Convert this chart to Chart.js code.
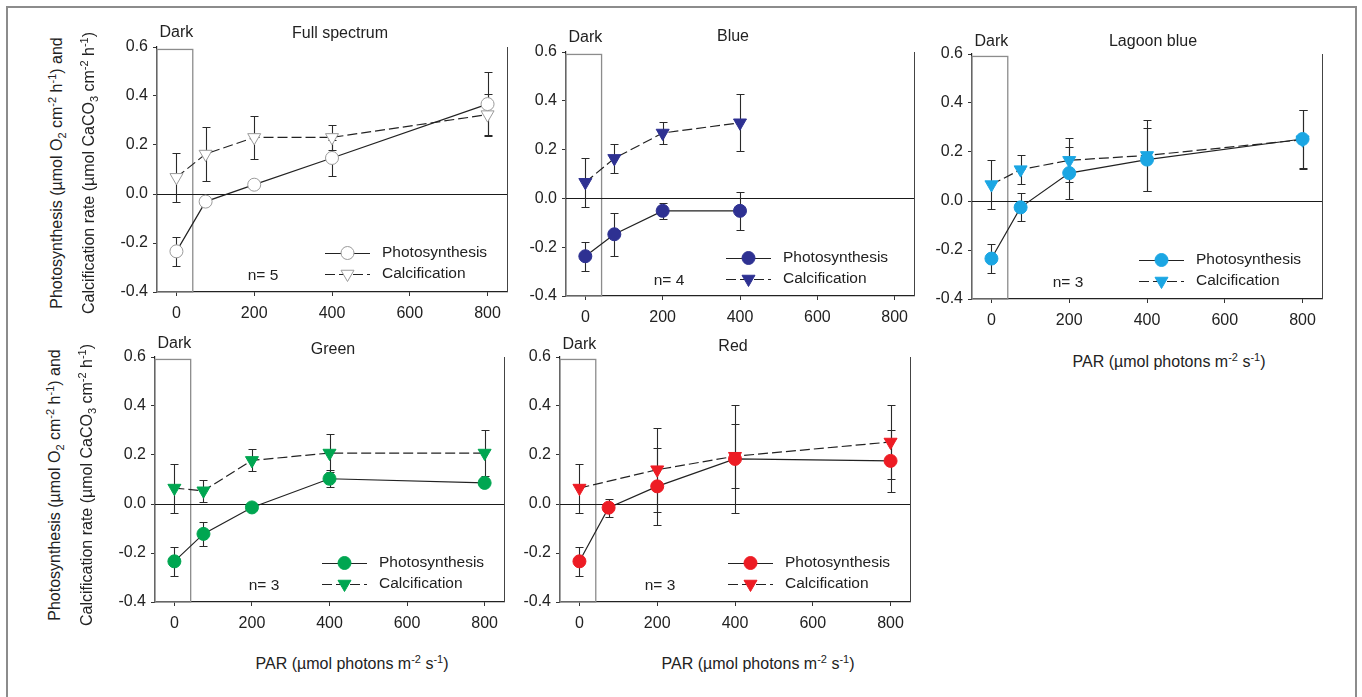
<!DOCTYPE html>
<html>
<head>
<meta charset="utf-8">
<script src="https://cdn.jsdelivr.net/npm/chart.js@4.4.1/dist/chart.umd.min.js"></script>
<style>
  body { margin:0; background:#fff; width:1362px; height:697px; overflow:hidden; position:relative;
         font-family:"Liberation Sans", Arial, sans-serif; color:#222; }
  .frame { position:absolute; left:6px; top:6px; width:1347px; height:760px; border:2px solid #8c8c8c; }
  canvas { position:absolute; }
  .lbl { position:absolute; white-space:nowrap; font-size:16px; line-height:18px; }
  .rot { transform:translate(-50%,-50%) rotate(-90deg); }
  .hor { transform:translate(-50%,-50%); }
  .lbl sup, .lbl sub { font-size:11px; line-height:0; }
</style>
</head>
<body>
<div class="frame"></div>

<script>
// tick values
const xTicks = [0, 200, 400, 600, 800];
const yTicks = [-0.4, -0.2, 0, 0.2, 0.4, 0.6];

// PAR levels (µmol photons m-2 s-1)
const parLevels = [0, 75, 200, 400, 800];
const parBlue = [0, 75, 200, 400];
const parRedCalc = [0, 200, 400, 800];

// Full spectrum
const fullPhoto = [-0.234, -0.031, 0.038, 0.147, 0.367];
const fullPhotoErr = [0.06, 0.012, 0.012, 0.075, 0.13];
const fullCalc = [0.068, 0.163, 0.231, 0.231, 0.324];
const fullCalcErr = [0.10, 0.11, 0.087, 0.05, 0.085];

// Blue
const bluePhoto = [-0.237, -0.147, -0.051, -0.051];
const bluePhotoErr = [0.06, 0.089, 0.032, 0.078];
const blueCalc = [0.066, 0.164, 0.268, 0.31];
const blueCalcErr = [0.10, 0.058, 0.044, 0.116];

// Lagoon blue
const lagoonPhoto = [-0.235, -0.026, 0.114, 0.169, 0.253];
const lagoonPhotoErr = [0.06, 0.057, 0.105, 0.13, 0.12];
const lagoonCalc = [0.067, 0.128, 0.166, 0.186, 0.25];
const lagoonCalcErr = [0.10, 0.06, 0.09, 0.145, 0.12];

// Green
const greenPhoto = [-0.234, -0.122, -0.014, 0.103, 0.086];
const greenPhotoErr = [0.06, 0.049, 0.01, 0.035, 0.01];
const greenCalc = [0.065, 0.054, 0.178, 0.208, 0.208];
const greenCalcErr = [0.10, 0.045, 0.045, 0.078, 0.095];

// Red
const redPhoto = [-0.234, -0.015, 0.072, 0.184, 0.176];
const redPhotoErr = [0.06, 0.037, 0.158, 0.22, 0.127];
const redCalc = [0.065, 0.14, 0.195, 0.253];
const redCalcErr = [0.10, 0.172, 0.13, 0.15];

const darkEdge = 42, darkTop = 0.59;
const FONT = '"Liberation Sans", Arial, sans-serif';

const panels = [
  {title:'Full spectrum', n:'n= 5', area:[157,47,507,292], fill:'#ffffff', edge:'#9a9a9a',
   px:parLevels, py:fullPhoto, pe:fullPhotoErr, cx:parLevels, cy:fullCalc, ce:fullCalcErr,
   darkDy:-14, titleDy:-13, titleX:183, nX:106, leg:168},
  {title:'Blue', n:'n= 4', area:[566,52,914,296], fill:'#2e3192', edge:'#2e3192',
   px:parBlue, py:bluePhoto, pe:bluePhotoErr, cx:parBlue, cy:blueCalc, ce:blueCalcErr,
   darkDy:-14, titleDy:-15, titleX:167, nX:103, leg:160},
  {title:'Lagoon blue', n:'n= 3', area:[972,54,1322,299], fill:'#1ba6e3', edge:'#1ba6e3',
   px:parLevels, py:lagoonPhoto, pe:lagoonPhotoErr, cx:parLevels, cy:lagoonCalc, ce:lagoonCalcErr,
   darkDy:-12, titleDy:-12, titleX:181, nX:96, leg:167},
  {title:'Green', n:'n= 3', area:[155,357,504,602], fill:'#00a651', edge:'#00a651',
   px:parLevels, py:greenPhoto, pe:greenPhotoErr, cx:parLevels, cy:greenCalc, ce:greenCalcErr,
   darkDy:-13, titleDy:-7, titleX:178, nX:109, leg:167},
  {title:'Red', n:'n= 3', area:[560,357,910,602], fill:'#ed1c24', edge:'#ed1c24',
   px:parLevels, py:redPhoto, pe:redPhotoErr, cx:parRedCalc, cy:redCalc, ce:redCalcErr,
   darkDy:-12, titleDy:-10, titleX:173, nX:100, leg:168}
];

function makeDecor(p){
  return {
    id:'decor',
    beforeDatasetsDraw(chart){
      const {ctx, chartArea:a, scales:{x, y}} = chart;
      ctx.save();
      // dark period box
      ctx.strokeStyle = '#8c8c8c'; ctx.lineWidth = 1.3;
      const bx = x.getPixelForValue(darkEdge), by = y.getPixelForValue(darkTop);
      ctx.strokeRect(a.left, by, bx - a.left, a.bottom - by);
      // zero line and right spine
      ctx.strokeStyle = '#1a1a1a'; ctx.lineWidth = 1.2;
      const y0 = Math.round(y.getPixelForValue(0)) + 0.5;
      ctx.beginPath(); ctx.moveTo(a.left, y0); ctx.lineTo(a.right, y0); ctx.stroke();
      ctx.strokeStyle = '#444'; ctx.lineWidth = 1;
      const rx = Math.round(a.right) + 0.5;
      ctx.beginPath(); ctx.moveTo(rx, a.top); ctx.lineTo(rx, a.bottom); ctx.stroke();
      // error bars
      ctx.strokeStyle = '#2a2a2a'; ctx.lineWidth = 1.1;
      chart.data.datasets.forEach(ds => {
        ds.data.forEach((pt, i) => {
          const e = ds.err[i];
          if (!e) return;
          const px = Math.round(x.getPixelForValue(pt.x)) + 0.5;
          const t = Math.round(y.getPixelForValue(pt.y + e)) + 0.5;
          const b = Math.round(y.getPixelForValue(pt.y - e)) + 0.5;
          ctx.beginPath();
          ctx.moveTo(px, t); ctx.lineTo(px, b);
          ctx.moveTo(px - 4, t); ctx.lineTo(px + 4, t);
          ctx.moveTo(px - 4, b); ctx.lineTo(px + 4, b);
          ctx.stroke();
        });
      });
      ctx.restore();
    },
    afterDraw(chart){
      const {ctx, chartArea:a, scales:{x}} = chart;
      ctx.save();
      ctx.fillStyle = '#222';
      ctx.textBaseline = 'middle';
      ctx.textAlign = 'center';
      ctx.font = '16px ' + FONT;
      ctx.fillText('Dark', x.getPixelForValue(0), a.top + p.darkDy);
      ctx.fillText(p.title, a.left + p.titleX, a.top + p.titleDy);
      ctx.font = '15.5px ' + FONT;
      ctx.fillText(p.n, a.left + p.nX, a.top + 229);
      // legend
      ctx.textAlign = 'left';
      const rows = [206, 227];
      chart.data.datasets.forEach((ds, k) => {
        const ly = a.top + rows[k];
        const x0 = a.left + p.leg, x1 = x0 + 45;
        ctx.strokeStyle = '#222'; ctx.lineWidth = 1.1;
        ctx.setLineDash(ds.borderDash || []);
        ctx.beginPath(); ctx.moveTo(x0, ly + 0.5); ctx.lineTo(x1, ly + 0.5); ctx.stroke();
        ctx.setLineDash([]);
        ctx.fillStyle = ds.pointBackgroundColor; ctx.strokeStyle = ds.pointBorderColor;
        ctx.lineWidth = 1;
        Chart.helpers.drawPoint(ctx, {pointStyle: ds.pointStyle, rotation: ds.pointRotation,
          radius: ds.pointRadius, borderWidth: 1}, (x0 + x1) / 2, ly);
        ctx.fillStyle = '#222';
        ctx.fillText(ds.label, x1 + 12, ly);
      });
      ctx.restore();
    }
  };
}

function axis(min, max, ticks, isX){
  return {
    type:'linear', min, max,
    afterBuildTicks: s => { s.ticks = ticks.map(v => ({value:v})); },
    afterFit: s => { if (isX) s.height = 30; else s.width = 60; },
    ticks:{ color:'#222', font:{family:FONT, size:16}, padding: isX ? 8 : 5,
            callback: v => isX ? String(v) : v.toFixed(1) },
    grid:{ drawOnChartArea:false, drawTicks:true, tickLength:4, color:'#333' },
    border:{ color:'#222', width:1.2 }
  };
}

panels.forEach(p => {
  const [l, t, r, b] = p.area;
  const cv = document.createElement('canvas');
  const W = r - l + 70, H = b - t + 60;
  cv.width = W; cv.height = H;
  cv.style.left = (l - 60) + 'px'; cv.style.top = (t - 30) + 'px';
  cv.style.width = W + 'px'; cv.style.height = H + 'px';
  document.body.appendChild(cv);
  new Chart(cv, {
    type:'line',
    data:{ datasets:[
      { label:'Photosynthesis', data:p.px.map((v,i) => ({x:v, y:p.py[i]})), err:p.pe,
        borderColor:'#222', borderWidth:1.2, pointStyle:'circle', pointRadius:6.5, pointRotation:0,
        pointBackgroundColor:p.fill, pointBorderColor:p.edge, pointBorderWidth:1 },
      { label:'Calcification', data:p.cx.map((v,i) => ({x:v, y:p.cy[i]})), err:p.ce,
        borderColor:'#222', borderWidth:1.2, borderDash:[10,4], pointStyle:'triangle', pointRadius:7.5,
        pointRotation:180, pointBackgroundColor:p.fill, pointBorderColor:p.edge, pointBorderWidth:1 }
    ]},
    options:{
      responsive:false, animation:false, devicePixelRatio:1,
      layout:{ padding:{ top:30, right:10, left:0, bottom:0 } },
      plugins:{ legend:{display:false}, tooltip:{enabled:false} },
      scales:{ x: axis(-50, 850, xTicks, true), y: axis(-0.4, 0.6, yTicks, false) }
    },
    plugins:[makeDecor(p)]
  });
});

// axis titles
const yLine1 = 'Photosynthesis (µmol O<sub>2</sub> cm<sup>-2</sup> h<sup>-1</sup>) and';
const yLine2 = 'Calcification rate (µmol CaCO<sub>3</sub> cm<sup>-2</sup> h<sup>-1</sup>)';
const xTitle = 'PAR (µmol photons m<sup>-2</sup> s<sup>-1</sup>)';
function label(html, x, y, cls){
  const d = document.createElement('div');
  d.className = 'lbl ' + cls;
  d.style.left = x + 'px'; d.style.top = y + 'px';
  d.innerHTML = html;
  document.body.appendChild(d);
}
label(yLine1, 57, 173, 'rot');
label(yLine2, 89, 173, 'rot');
label(yLine1, 55, 485, 'rot');
label(yLine2, 87, 485, 'rot');
label(xTitle, 1169, 362, 'hor');
label(xTitle, 352, 664, 'hor');
label(xTitle, 758, 664, 'hor');
</script>
</body>
</html>
